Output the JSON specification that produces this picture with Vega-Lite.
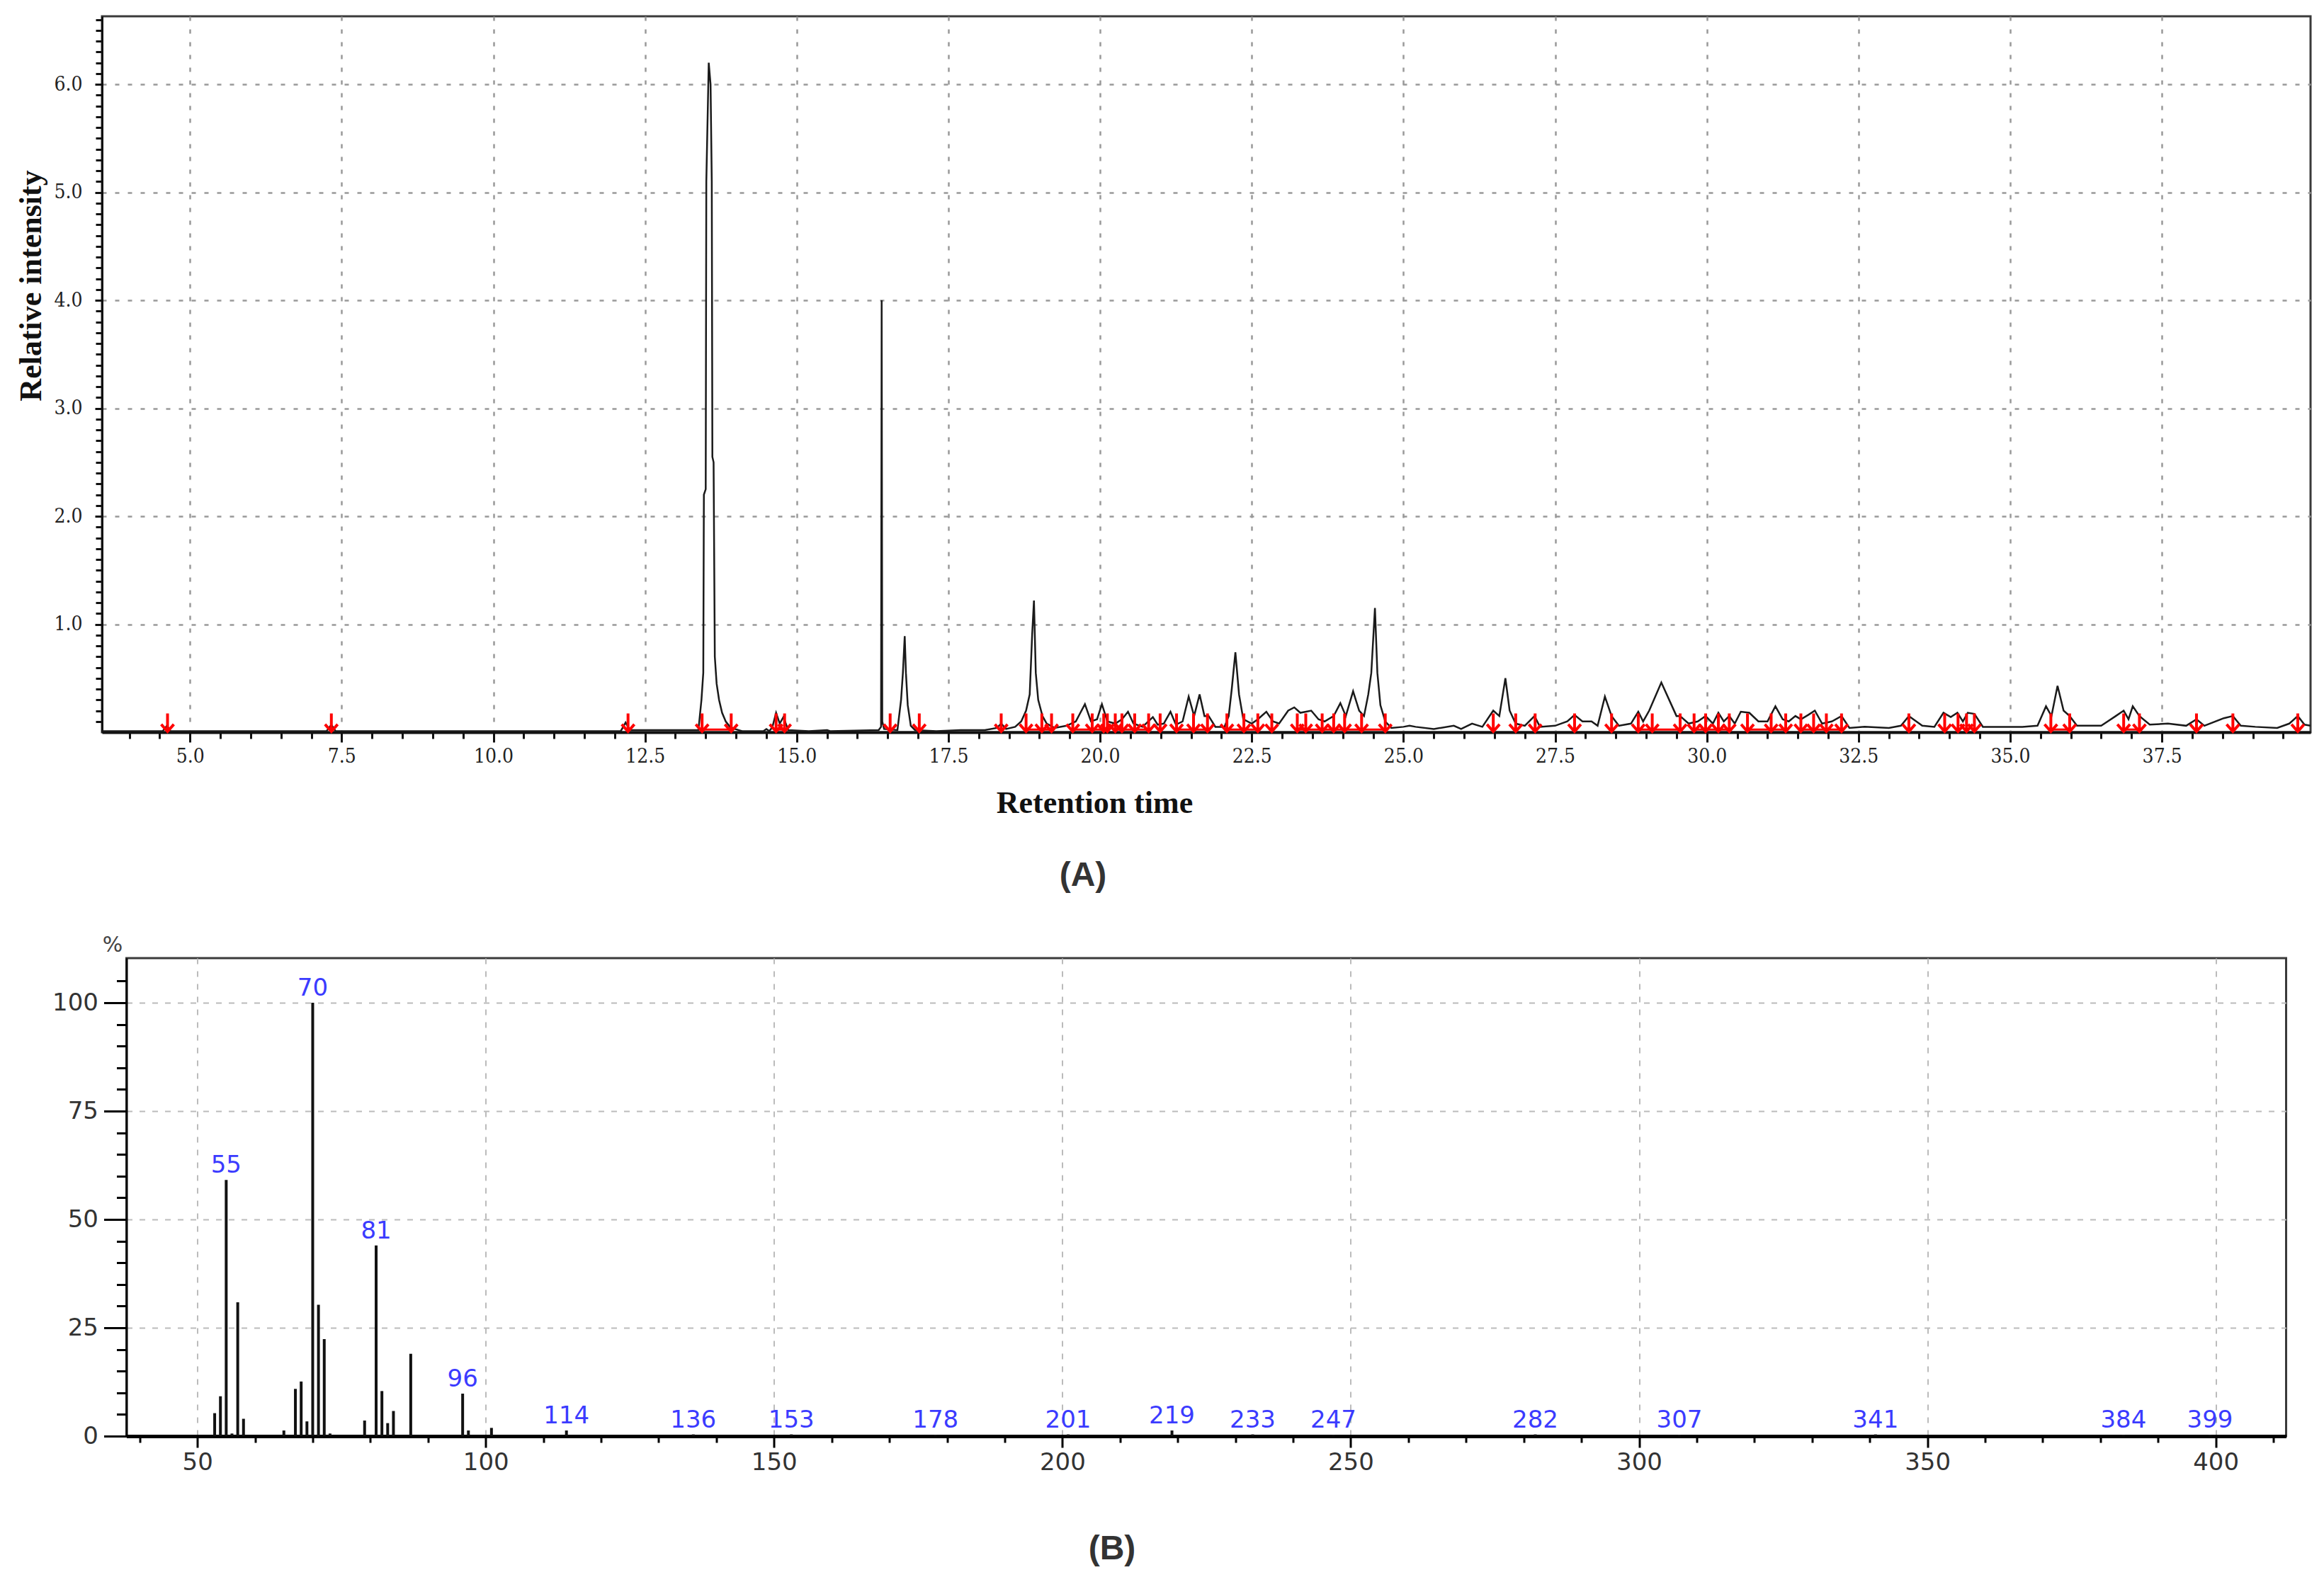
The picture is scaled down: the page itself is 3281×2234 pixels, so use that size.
{
  "$schema": "https://vega.github.io/schema/vega-lite/v6.json",
  "background": "white",
  "padding": {"left": 20, "top": 21, "right": 10, "bottom": 10},
  "bounds": "flush",
  "center": true,
  "spacing": 319,
  "config": {"view": {"stroke": "#3a3a3a", "strokeWidth": 3}},
  "datasets": {
    "chrom": [
      {"t":3.55,"v":0.01},{"t":4.55,"v":0.01},{"t":4.62,"v":0.06},{"t":4.68,"v":0.01},{"t":7.25,"v":0.01},{"t":7.33,"v":0.07},{"t":7.4,"v":0.01},
      {"t":12.1,"v":0.01},{"t":12.18,"v":0.09},{"t":12.25,"v":0.02},
      {"t":13.38,"v":0.02},{"t":13.43,"v":0.3},{"t":13.46,"v":0.55},{"t":13.47,"v":2.2},{"t":13.5,"v":2.25},{"t":13.51,"v":5.1},{"t":13.55,"v":6.2},{"t":13.58,"v":6.0},{"t":13.6,"v":5.1},{"t":13.61,"v":2.55},{"t":13.63,"v":2.5},{"t":13.65,"v":0.7},{"t":13.68,"v":0.45},{"t":13.72,"v":0.3},{"t":13.77,"v":0.18},{"t":13.83,"v":0.1},{"t":13.9,"v":0.05},{"t":13.98,"v":0.03},{"t":14.1,"v":0.01},
      {"t":14.45,"v":0.01},{"t":14.5,"v":0.03},{"t":14.55,"v":0.01},{"t":14.6,"v":0.05},{"t":14.66,"v":0.18},{"t":14.72,"v":0.08},{"t":14.78,"v":0.14},{"t":14.86,"v":0.02},{"t":15.2,"v":0.01},{"t":15.5,"v":0.02},{"t":15.55,"v":0.01},
      {"t":16.35,"v":0.02},{"t":16.39,"v":0.05},{"t":16.4,"v":4.0},{"t":16.41,"v":0.1},{"t":16.44,"v":0.03},
      {"t":16.66,"v":0.02},{"t":16.72,"v":0.3},{"t":16.75,"v":0.55},{"t":16.78,"v":0.89},{"t":16.8,"v":0.55},{"t":16.83,"v":0.25},{"t":16.88,"v":0.06},{"t":16.95,"v":0.02},{"t":17.3,"v":0.01},{"t":17.7,"v":0.02},{"t":18.1,"v":0.02},{"t":18.3,"v":0.04},{"t":18.37,"v":0.08},{"t":18.45,"v":0.03},
      {"t":18.6,"v":0.05},{"t":18.7,"v":0.1},{"t":18.78,"v":0.2},{"t":18.84,"v":0.35},{"t":18.88,"v":0.9},{"t":18.91,"v":1.22},{"t":18.94,"v":0.55},{"t":18.98,"v":0.3},{"t":19.05,"v":0.15},{"t":19.12,"v":0.08},{"t":19.25,"v":0.04},{"t":19.45,"v":0.06},{"t":19.6,"v":0.1},{"t":19.75,"v":0.26},{"t":19.85,"v":0.1},{"t":19.95,"v":0.12},{"t":20.03,"v":0.26},{"t":20.12,"v":0.1},{"t":20.25,"v":0.08},{"t":20.36,"v":0.12},{"t":20.46,"v":0.19},{"t":20.55,"v":0.08},{"t":20.7,"v":0.05},{"t":20.87,"v":0.14},{"t":20.95,"v":0.07},{"t":21.05,"v":0.08},{"t":21.16,"v":0.19},{"t":21.25,"v":0.07},{"t":21.36,"v":0.1},{"t":21.46,"v":0.33},{"t":21.55,"v":0.15},{"t":21.64,"v":0.35},{"t":21.72,"v":0.15},{"t":21.79,"v":0.15},{"t":21.9,"v":0.05},{"t":22.05,"v":0.05},{"t":22.12,"v":0.15},{"t":22.17,"v":0.4},{"t":22.23,"v":0.74},{"t":22.29,"v":0.35},{"t":22.36,"v":0.12},{"t":22.5,"v":0.08},{"t":22.6,"v":0.12},{"t":22.74,"v":0.19},{"t":22.85,"v":0.1},{"t":22.95,"v":0.08},{"t":23.1,"v":0.2},{"t":23.2,"v":0.23},{"t":23.3,"v":0.18},{"t":23.48,"v":0.2},{"t":23.6,"v":0.12},{"t":23.7,"v":0.1},{"t":23.85,"v":0.15},{"t":23.96,"v":0.27},{"t":24.05,"v":0.15},{"t":24.17,"v":0.38},{"t":24.27,"v":0.2},{"t":24.35,"v":0.15},{"t":24.42,"v":0.35},{"t":24.47,"v":0.55},{"t":24.53,"v":1.15},{"t":24.57,"v":0.55},{"t":24.62,"v":0.25},{"t":24.7,"v":0.1},{"t":24.8,"v":0.04},{"t":25.0,"v":0.05},{"t":25.1,"v":0.06},{"t":25.2,"v":0.05},{"t":25.5,"v":0.03},{"t":25.83,"v":0.06},{"t":25.95,"v":0.03},{"t":26.13,"v":0.08},{"t":26.3,"v":0.05},{"t":26.48,"v":0.2},{"t":26.58,"v":0.15},{"t":26.68,"v":0.5},{"t":26.75,"v":0.2},{"t":26.85,"v":0.08},{"t":27.0,"v":0.06},{"t":27.16,"v":0.15},{"t":27.25,"v":0.05},{"t":27.5,"v":0.06},{"t":27.7,"v":0.1},{"t":27.82,"v":0.16},{"t":27.95,"v":0.1},{"t":28.1,"v":0.1},{"t":28.2,"v":0.06},{"t":28.32,"v":0.33},{"t":28.43,"v":0.15},{"t":28.55,"v":0.06},{"t":28.75,"v":0.08},{"t":28.87,"v":0.19},{"t":28.95,"v":0.1},{"t":29.05,"v":0.2},{"t":29.25,"v":0.46},{"t":29.5,"v":0.15},{"t":29.56,"v":0.15},{"t":29.7,"v":0.08},{"t":29.85,"v":0.1},{"t":29.98,"v":0.15},{"t":30.1,"v":0.08},{"t":30.19,"v":0.18},{"t":30.28,"v":0.1},{"t":30.37,"v":0.15},{"t":30.46,"v":0.08},{"t":30.56,"v":0.19},{"t":30.7,"v":0.18},{"t":30.85,"v":0.1},{"t":31.0,"v":0.1},{"t":31.13,"v":0.24},{"t":31.25,"v":0.12},{"t":31.35,"v":0.1},{"t":31.46,"v":0.15},{"t":31.55,"v":0.12},{"t":31.67,"v":0.16},{"t":31.78,"v":0.2},{"t":31.9,"v":0.08},{"t":32.06,"v":0.1},{"t":32.22,"v":0.15},{"t":32.35,"v":0.04},{"t":32.6,"v":0.05},{"t":33.0,"v":0.04},{"t":33.2,"v":0.06},{"t":33.33,"v":0.15},{"t":33.55,"v":0.06},{"t":33.75,"v":0.05},{"t":33.9,"v":0.18},{"t":34.02,"v":0.14},{"t":34.13,"v":0.18},{"t":34.22,"v":0.1},{"t":34.3,"v":0.18},{"t":34.41,"v":0.17},{"t":34.55,"v":0.05},{"t":34.9,"v":0.05},{"t":35.2,"v":0.05},{"t":35.45,"v":0.06},{"t":35.59,"v":0.24},{"t":35.68,"v":0.15},{"t":35.78,"v":0.43},{"t":35.88,"v":0.2},{"t":35.98,"v":0.15},{"t":36.1,"v":0.06},{"t":36.5,"v":0.06},{"t":36.74,"v":0.15},{"t":36.87,"v":0.2},{"t":36.95,"v":0.12},{"t":37.02,"v":0.24},{"t":37.13,"v":0.15},{"t":37.3,"v":0.07},{"t":37.6,"v":0.08},{"t":37.9,"v":0.06},{"t":38.07,"v":0.12},{"t":38.2,"v":0.06},{"t":38.52,"v":0.13},{"t":38.67,"v":0.15},{"t":38.8,"v":0.06},{"t":39.04,"v":0.05},{"t":39.4,"v":0.04},{"t":39.6,"v":0.08},{"t":39.74,"v":0.15},{"t":39.85,"v":0.07},{"t":39.95,"v":0.06}
    ],
    "markers": [
      {"t":4.63,"v":0.09},{"t":7.33,"v":0.09},{"t":12.22,"v":0.09},{"t":13.44,"v":0.09},{"t":13.92,"v":0.09},{"t":14.66,"v":0.09},{"t":14.8,"v":0.09},{"t":16.54,"v":0.09},{"t":17.02,"v":0.09},{"t":18.37,"v":0.09},{"t":18.78,"v":0.09},{"t":19.04,"v":0.09},{"t":19.2,"v":0.09},{"t":19.55,"v":0.09},{"t":19.87,"v":0.09},{"t":20.06,"v":0.09},{"t":20.12,"v":0.09},{"t":20.25,"v":0.09},{"t":20.36,"v":0.09},{"t":20.57,"v":0.09},{"t":20.8,"v":0.09},{"t":20.99,"v":0.09},{"t":21.26,"v":0.09},{"t":21.54,"v":0.09},{"t":21.77,"v":0.09},{"t":22.09,"v":0.09},{"t":22.37,"v":0.09},{"t":22.6,"v":0.09},{"t":22.83,"v":0.09},{"t":23.25,"v":0.09},{"t":23.39,"v":0.09},{"t":23.66,"v":0.09},{"t":23.85,"v":0.09},{"t":24.03,"v":0.09},{"t":24.31,"v":0.09},{"t":24.7,"v":0.09},{"t":26.48,"v":0.09},{"t":26.85,"v":0.09},{"t":27.17,"v":0.09},{"t":27.82,"v":0.09},{"t":28.43,"v":0.09},{"t":28.87,"v":0.09},{"t":29.1,"v":0.09},{"t":29.56,"v":0.09},{"t":29.79,"v":0.09},{"t":29.98,"v":0.09},{"t":30.19,"v":0.09},{"t":30.37,"v":0.09},{"t":30.67,"v":0.09},{"t":31.06,"v":0.09},{"t":31.3,"v":0.09},{"t":31.55,"v":0.09},{"t":31.76,"v":0.09},{"t":31.97,"v":0.09},{"t":32.22,"v":0.09},{"t":33.33,"v":0.09},{"t":33.92,"v":0.09},{"t":34.14,"v":0.09},{"t":34.28,"v":0.09},{"t":34.41,"v":0.09},{"t":35.67,"v":0.09},{"t":35.98,"v":0.09},{"t":36.87,"v":0.09},{"t":37.13,"v":0.09},{"t":38.07,"v":0.09},{"t":38.67,"v":0.09},{"t":39.74,"v":0.09}
    ],
    "segments": [
      {"t1":13.44,"t2":13.92,"v":0.025},{"t1":14.66,"t2":14.8,"v":0.025},{"t1":18.78,"t2":19.2,"v":0.025},{"t1":19.55,"t2":20.12,"v":0.025},{"t1":20.25,"t2":20.8,"v":0.025},{"t1":21.26,"t2":21.77,"v":0.025},{"t1":22.09,"t2":22.6,"v":0.025},{"t1":23.25,"t2":24.31,"v":0.025},{"t1":24.31,"t2":24.7,"v":0.025},{"t1":28.87,"t2":29.56,"v":0.025},{"t1":29.79,"t2":30.37,"v":0.025},{"t1":30.67,"t2":31.3,"v":0.025},{"t1":31.55,"t2":32.22,"v":0.025},{"t1":35.67,"t2":35.98,"v":0.025},{"t1":36.87,"t2":37.13,"v":0.025}
    ],
    "ms": [
      {"mz":53,"pct":5.3,"label":""},{"mz":54,"pct":9.2,"label":""},{"mz":55,"pct":59.1,"label":"55"},{"mz":56,"pct":0.6,"label":""},{"mz":57,"pct":30.9,"label":""},{"mz":58,"pct":4.0,"label":""},
      {"mz":65,"pct":1.3,"label":""},{"mz":67,"pct":10.9,"label":""},{"mz":68,"pct":12.6,"label":""},{"mz":69,"pct":3.4,"label":""},{"mz":70,"pct":100,"label":"70"},{"mz":71,"pct":30.3,"label":""},{"mz":72,"pct":22.4,"label":""},{"mz":73,"pct":0.6,"label":""},
      {"mz":79,"pct":3.6,"label":""},{"mz":81,"pct":44.0,"label":"81"},{"mz":82,"pct":10.4,"label":""},{"mz":83,"pct":3.0,"label":""},{"mz":84,"pct":5.8,"label":""},{"mz":87,"pct":19.0,"label":""},
      {"mz":96,"pct":9.8,"label":"96"},{"mz":97,"pct":1.3,"label":""},{"mz":101,"pct":1.9,"label":""},
      {"mz":114,"pct":1.3,"label":"114"},{"mz":136,"pct":0.4,"label":"136"},{"mz":153,"pct":0.4,"label":"153"},{"mz":178,"pct":0.3,"label":"178"},{"mz":201,"pct":0.4,"label":"201"},{"mz":219,"pct":1.3,"label":"219"},{"mz":233,"pct":0.4,"label":"233"},{"mz":247,"pct":0.3,"label":"247"},{"mz":282,"pct":0.4,"label":"282"},{"mz":307,"pct":0.3,"label":"307"},{"mz":341,"pct":0.4,"label":"341"},{"mz":384,"pct":0.3,"label":"384"},{"mz":399,"pct":0.3,"label":"399"}
    ]
  },
  "vconcat": [
    {
      "width": 3118,
      "height": 1011,
      "title": {"text": "(A)", "orient": "bottom", "anchor": "middle", "frame": "group", "dx": -174, "offset": 57, "font": "Liberation Sans", "fontSize": 48, "fontWeight": "bold", "color": "#333333"},
      "layer": [
        {
          "data": {"name": "segments"},
          "mark": {"type": "rule", "color": "#ff0000", "strokeWidth": 3},
          "encoding": {
            "x": {"field": "t1", "type": "quantitative", "scale": {"domain": [3.55, 39.95], "nice": false, "zero": false},
              "axis": {"orient": "bottom", "values": [5, 7.5, 10, 12.5, 15, 17.5, 20, 22.5, 25, 27.5, 30, 32.5, 35, 37.5], "format": ".1f",
                "tickSize": 14, "tickWidth": 3, "tickColor": "#111", "labelPadding": 6, "labelFont": "'DejaVu Serif Condensed', 'Liberation Serif', serif", "labelFontSize": 28, "labelColor": "#222",
                "grid": true, "gridDash": [6, 12], "gridColor": "#999999", "gridWidth": 2.5, "domainColor": "#111", "domainWidth": 4,
                "title": "Retention time", "titleFont": "Liberation Serif", "titleFontSize": 44, "titleFontWeight": "bold", "titleColor": "#111",
                "titleX": 1401, "titleY": 113, "titleAlign": "center", "titleBaseline": "alphabetic"}},
            "x2": {"field": "t2"},
            "y": {"field": "v", "type": "quantitative", "scale": {"domain": [0, 6.63], "nice": false},
              "axis": {"orient": "left", "values": [1, 2, 3, 4, 5, 6], "format": ".1f",
                "tickSize": 10, "tickWidth": 3, "tickColor": "#111", "labelPadding": 18, "labelFont": "'DejaVu Serif Condensed', 'Liberation Serif', serif", "labelFontSize": 28, "labelColor": "#222",
                "grid": true, "gridDash": [6, 12], "gridColor": "#999999", "gridWidth": 2.5, "domainColor": "#111", "domainWidth": 3,
                "title": "Relative intensity", "titleFont": "Liberation Serif", "titleFontSize": 44, "titleFontWeight": "bold", "titleColor": "#111",
                "titleAngle": -90, "titleX": -100, "titleY": 380, "titleAlign": "center", "titleBaseline": "middle"}}
          }
        },
        {
          "data": {"name": "chrom"},
          "mark": {"type": "line", "color": "#1a1a1a", "strokeWidth": 2.5, "clip": true},
          "encoding": {
            "x": {"field": "t", "type": "quantitative", "axis": null},
            "y": {"field": "v", "type": "quantitative", "axis": null}
          }
        },
        {
          "data": {"name": "markers"},
          "mark": {"type": "point", "shape": "M0,-1L0,1M-0.7,0.2L0,1L0.7,0.2", "filled": false, "color": "#ff0000", "strokeWidth": 4, "size": 650, "opacity": 1},
          "encoding": {
            "x": {"field": "t", "type": "quantitative",
              "axis": {"orient": "bottom", "values": [4,4.5,5,5.5,6,6.5,7,7.5,8,8.5,9,9.5,10,10.5,11,11.5,12,12.5,13,13.5,14,14.5,15,15.5,16,16.5,17,17.5,18,18.5,19,19.5,20,20.5,21,21.5,22,22.5,23,23.5,24,24.5,25,25.5,26,26.5,27,27.5,28,28.5,29,29.5,30,30.5,31,31.5,32,32.5,33,33.5,34,34.5,35,35.5,36,36.5,37,37.5,38,38.5,39,39.5],
                "labels": false, "domain": false, "grid": false, "tickSize": 9, "tickWidth": 3, "tickColor": "#111", "title": null}},
            "y": {"field": "v", "type": "quantitative",
              "axis": {"orient": "left", "values": [0.1,0.2,0.3,0.4,0.5,0.6,0.7,0.8,0.9,1,1.1,1.2,1.3,1.4,1.5,1.6,1.7,1.8,1.9,2,2.1,2.2,2.3,2.4,2.5,2.6,2.7,2.8,2.9,3,3.1,3.2,3.3,3.4,3.5,3.6,3.7,3.8,3.9,4,4.1,4.2,4.3,4.4,4.5,4.6,4.7,4.8,4.9,5,5.1,5.2,5.3,5.4,5.5,5.6,5.7,5.8,5.9,6,6.1,6.2,6.3,6.4,6.5,6.6],
                "labels": false, "domain": false, "grid": false, "tickSize": 9, "tickWidth": 3, "tickColor": "#111", "title": null}}
          }
        }
      ],
      "resolve": {"axis": {"x": "independent", "y": "independent"}}
    },
    {
      "width": 3049,
      "height": 675,
      "layer": [
        {
          "data": {"name": "ms"},
          "mark": {"type": "rule", "color": "#111111", "strokeWidth": 4},
          "encoding": {
            "x": {"field": "mz", "type": "quantitative", "scale": {"domain": [37.7, 412.2], "nice": false, "zero": false},
              "axis": {"orient": "bottom", "values": [50, 100, 150, 200, 250, 300, 350, 400],
                "tickSize": 16, "tickWidth": 3, "tickColor": "#000", "labelPadding": 4, "labelFont": "DejaVu Sans", "labelFontSize": 34, "labelColor": "#333333",
                "grid": true, "gridDash": [8, 10], "gridColor": "#bbbbbb", "gridWidth": 2, "domainColor": "#000", "domainWidth": 5,
                "title": "(B)", "titleFont": "Liberation Sans", "titleFontSize": 48, "titleFontWeight": "bold", "titleColor": "#333333",
                "titleX": 1391, "titleY": 159, "titleAlign": "center", "titleBaseline": "middle"}},
            "y": {"field": "pct", "type": "quantitative", "scale": {"domain": [0, 110.3], "nice": false},
              "axis": {"orient": "left", "values": [0, 25, 50, 75, 100],
                "tickSize": 32, "tickWidth": 3, "tickColor": "#000", "labelPadding": 8, "labelFont": "DejaVu Sans", "labelFontSize": 34, "labelColor": "#333333",
                "grid": true, "gridDash": [8, 10], "gridColor": "#bbbbbb", "gridWidth": 2, "domainColor": "#000", "domainWidth": 3,
                "title": "%", "titleFont": "DejaVu Sans", "titleFontSize": 30, "titleFontWeight": "normal", "titleColor": "#444444",
                "titleAngle": 0, "titleX": -20, "titleY": -19, "titleAlign": "center", "titleBaseline": "middle"}},
            "y2": {"datum": 0}
          }
        },
        {
          "data": {"name": "ms"},
          "transform": [{"filter": "datum.label != ''"}],
          "mark": {"type": "text", "color": "#3b3bff", "font": "DejaVu Sans", "fontSize": 34, "baseline": "bottom", "align": "center", "dy": -3},
          "encoding": {
            "x": {"field": "mz", "type": "quantitative",
              "axis": {"orient": "bottom", "values": [40,60,70,80,90,110,120,130,140,160,170,180,190,210,220,230,240,260,270,280,290,310,320,330,340,360,370,380,390,410],
                "labels": false, "domain": false, "grid": false, "tickSize": 9, "tickWidth": 3, "tickColor": "#000", "title": null}},
            "y": {"field": "pct", "type": "quantitative",
              "axis": {"orient": "left", "values": [5,10,15,20,30,35,40,45,55,60,65,70,80,85,90,95,105],
                "labels": false, "domain": false, "grid": false, "tickSize": 14, "tickWidth": 3, "tickColor": "#000", "title": null}},
            "text": {"field": "label"}
          }
        }
      ],
      "resolve": {"axis": {"x": "independent", "y": "independent"}}
    }
  ]
}
